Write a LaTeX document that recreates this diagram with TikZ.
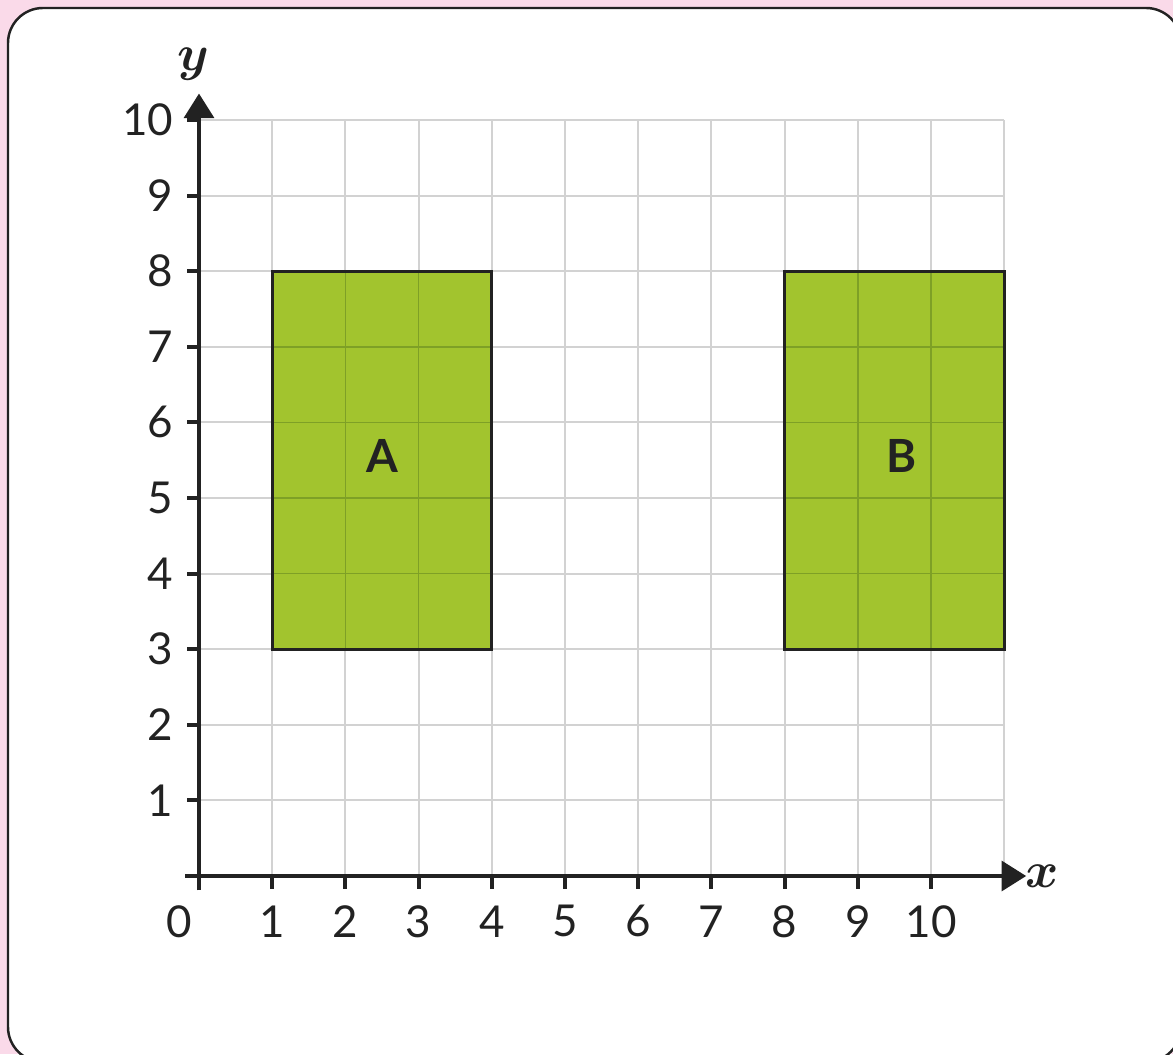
\documentclass[tikz,border=0pt]{standalone}
\usepackage{fontspec}
\setmainfont{Lato}
\usepackage{amsmath,amssymb}
\usetikzlibrary{arrows.meta}
\definecolor{bgPink}{RGB}{250,218,233}
\definecolor{shapeGreen}{RGB}{162,196,46}
\definecolor{gridGreen}{RGB}{126,160,38}
\definecolor{gridGray}{RGB}{210,210,210}
\definecolor{axisBlack}{RGB}{34,34,34}

\begin{document}
\begin{tikzpicture}[x=0.732cm, y=0.756cm,
    every node/.style={font=\fontsize{12.5}{14}\selectfont, text=axisBlack},
    axisline/.style={axisBlack, line width=1.1pt},
    gridline/.style={gridGray, line width=0.6pt},
    innerline/.style={gridGreen, line width=0.5pt}]
  \useasboundingbox (-1.99cm,-1.78cm) rectangle (9.74cm,8.76cm);
  % Card
  \fill[bgPink] (-1.99cm,-1.78cm) rectangle (9.74cm,8.76cm);
  \draw[axisBlack, line width=0.7pt, fill=white, rounded corners=0.35cm]
    (-1.91cm,-1.86cm) rectangle (9.82cm,8.68cm);
  % Grid
  \foreach \i in {1,...,11}
    \draw[gridline] (\i,0) -- (\i,10);
  \foreach \j in {1,...,10}
    \draw[gridline] (0,\j) -- (11,\j);
  % Shapes
  \fill[shapeGreen] (1,3) rectangle (4,8);
  \fill[shapeGreen] (8,3) rectangle (11,8);
  \foreach \i in {2,3} {
    \draw[innerline] (\i,3) -- (\i,8);
    \draw[innerline] (\i+7,3) -- (\i+7,8);
  }
  \foreach \j in {4,...,7} {
    \draw[innerline] (1,\j) -- (4,\j);
    \draw[innerline] (8,\j) -- (11,\j);
  }
  \draw[axisBlack, line width=0.8pt] (1,3) rectangle (4,8);
  \draw[axisBlack, line width=0.8pt] (8,3) rectangle (11,8);
  \node[font=\fontsize{13}{15}\selectfont\bfseries] (labA) at (2.5,5.55) {A};
  \node[font=\fontsize{13}{15}\selectfont\bfseries] (labB) at (9.6,5.55) {B};
  % Axes
  \coordinate (xstart) at (-0.19,0);
  \coordinate (xend) at (11.3,0);
  \coordinate (ystart) at (0,-0.19);
  \coordinate (yend) at (0,10.35);
  \draw[axisline, -{Triangle[length=7pt,width=8.5pt]}] (xstart) -- (xend);
  \draw[axisline, -{Triangle[length=7pt,width=8.5pt]}] (ystart) -- (yend);
  \node[font=\fontsize{14}{16}\selectfont\boldmath] (xlab) at (11.52,0) {$x$};
  \node[font=\fontsize{14}{16}\selectfont\boldmath] (ylab) at (-0.08,10.74) {$y$};
  % Ticks and labels
  \foreach \i in {0,...,10}
    \draw[axisline] (\i,0) -- (\i,-0.17);
  \foreach \j in {1,...,10}
    \draw[axisline] (0,\j) -- (-0.17,\j);
  \node (xl0) at (-0.27,-0.6) {0};
  \foreach \i in {1,...,10}
    \node (xl\i) at (\i,-0.6) {\i};
  \foreach \j in {1,...,10}
    \node[anchor=east] (yl\j) at (-0.18,\j) {\j};
\end{tikzpicture}
\end{document}
